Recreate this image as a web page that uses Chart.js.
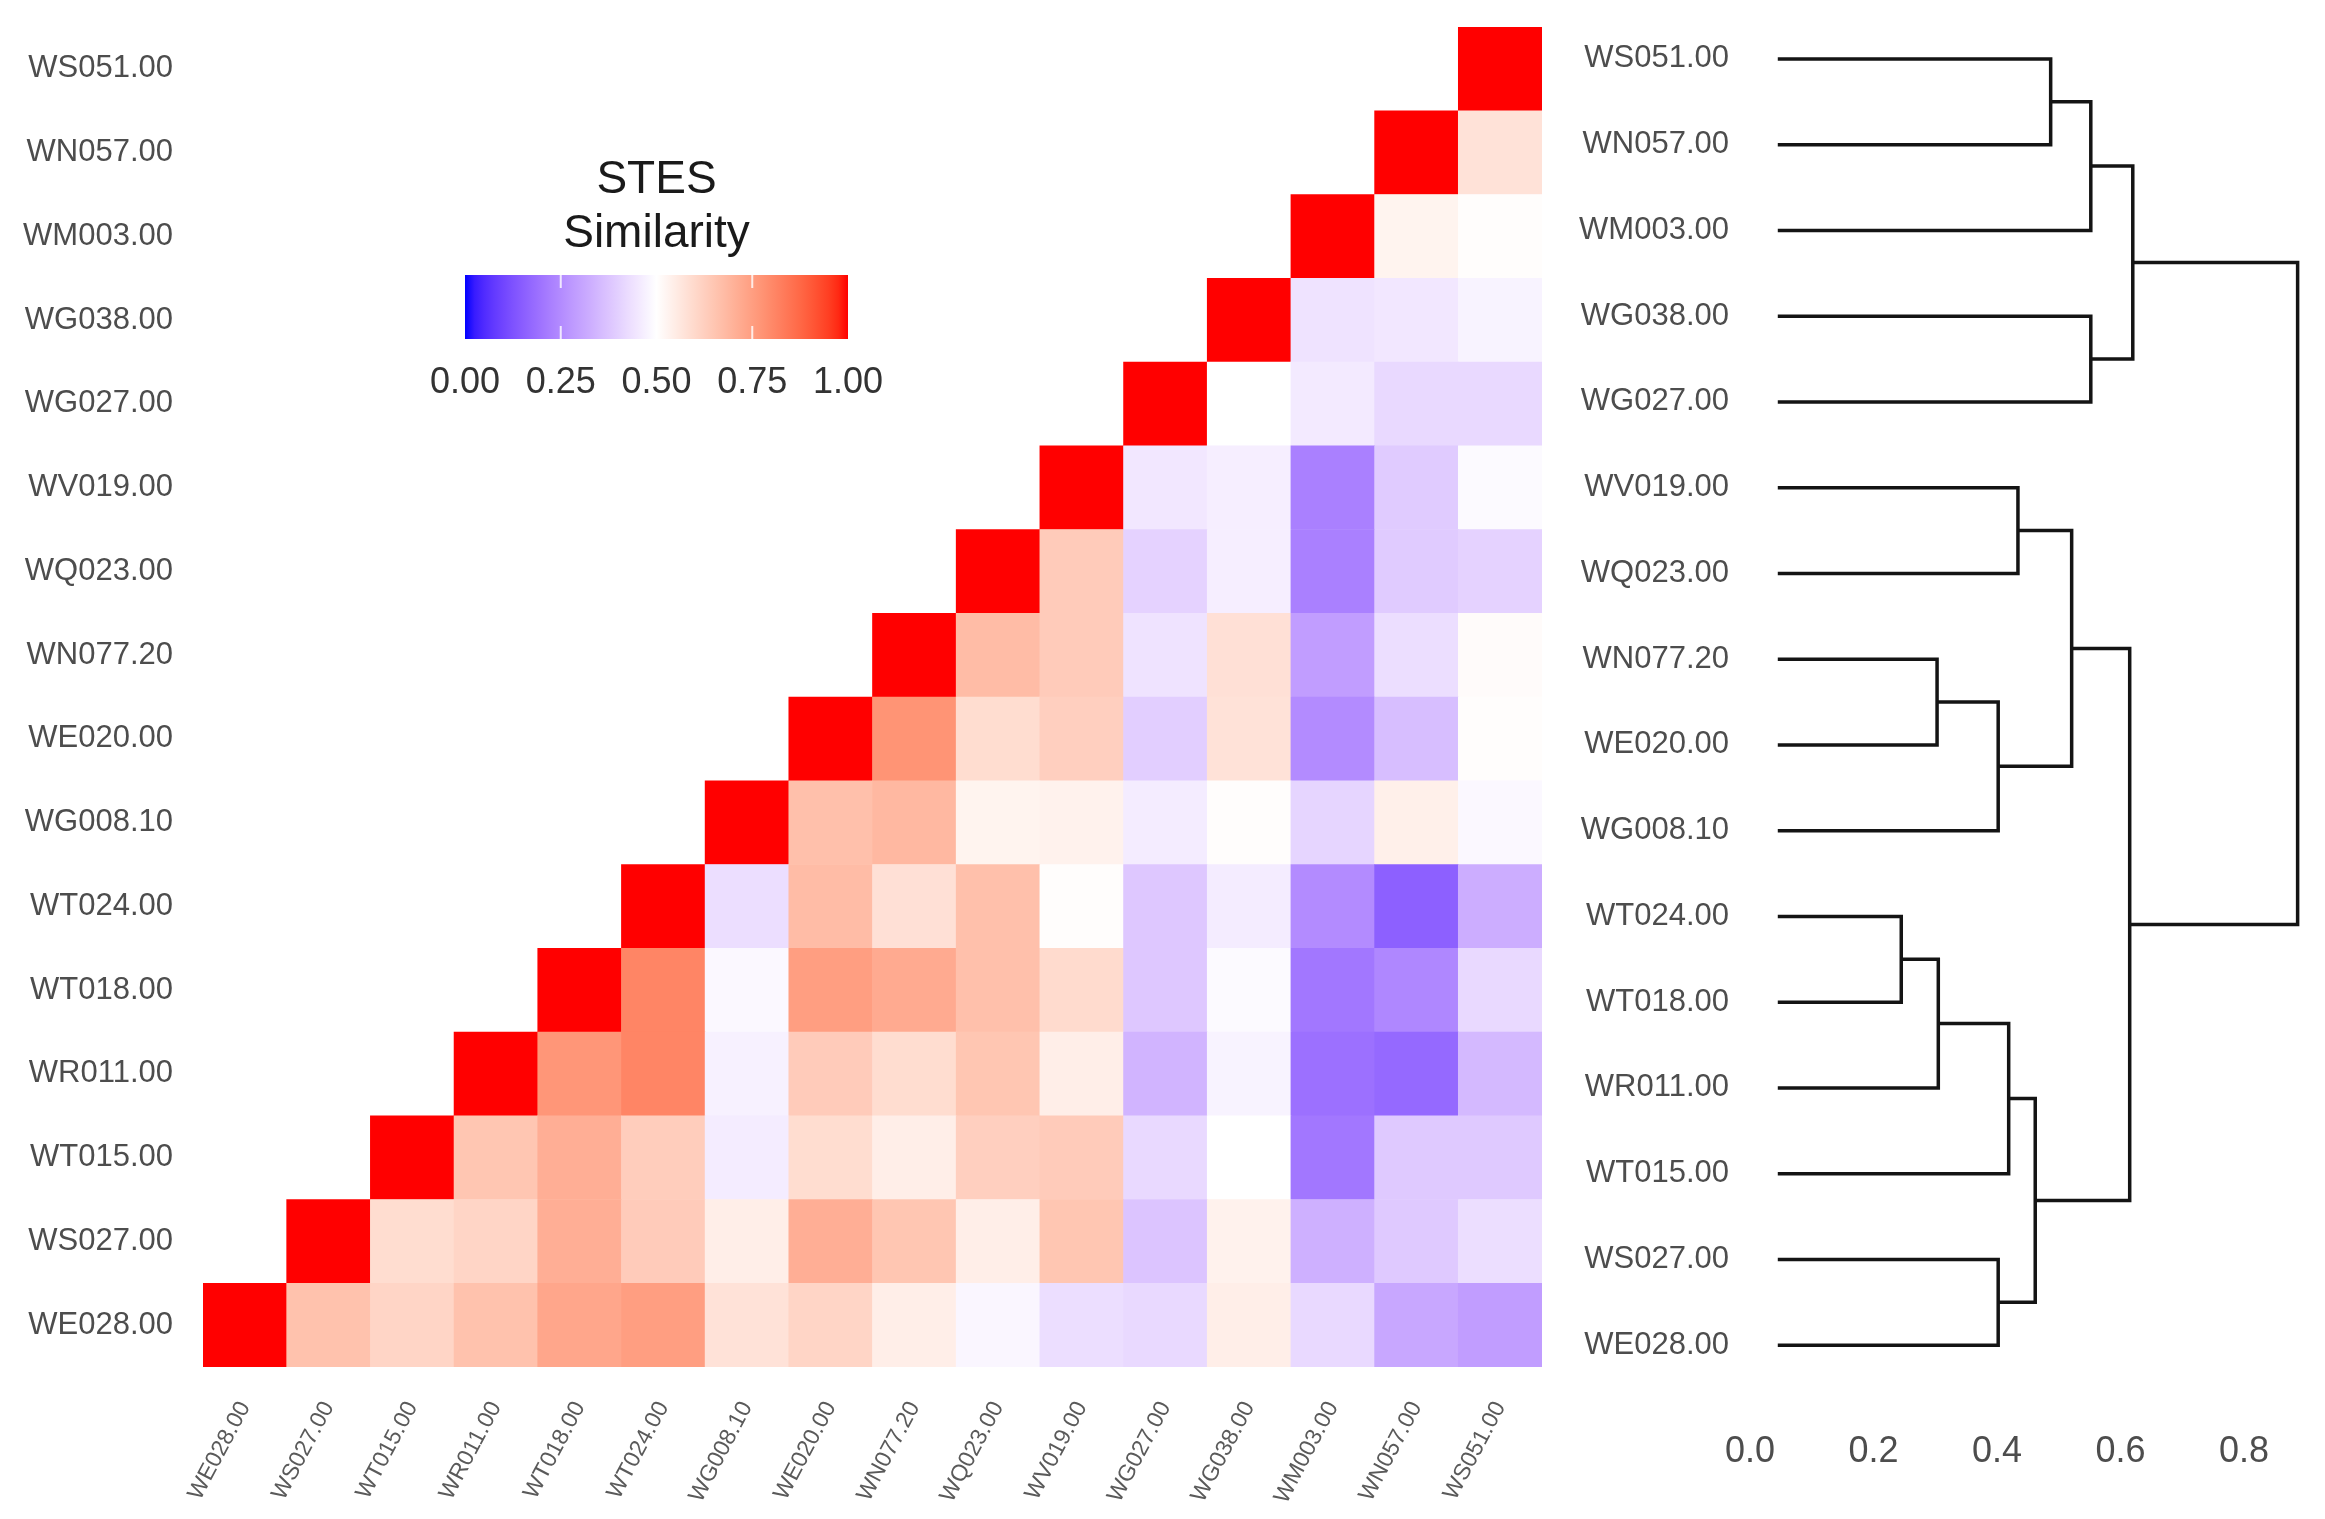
<!DOCTYPE html>
<html>
<head>
<meta charset="utf-8">
<script src="https://cdn.jsdelivr.net/npm/chart.js@4.4.1/dist/chart.umd.min.js"></script>
<style>
    html, body { margin: 0; padding: 0; background: #fff; }
    #wrap { position: relative; width: 2325px; height: 1519px; }
    #heatBox { position: absolute; left: 0; top: 0; width: 1560px; height: 1519px; }
    #dendBox { position: absolute; left: 1560px; top: 0; width: 765px; height: 1519px; }
</style>
</head>
<body>
<div id="wrap">
    <div id="heatBox"><canvas id="heat"></canvas></div>
    <div id="dendBox"><canvas id="dend"></canvas></div>
</div>
<script>
// samples, bottom to top (and left to right on the heatmap)
const sampleIds = ['WE028.00', 'WS027.00', 'WT015.00', 'WR011.00', 'WT018.00', 'WT024.00', 'WG008.10', 'WE020.00',
    'WN077.20', 'WQ023.00', 'WV019.00', 'WG027.00', 'WG038.00', 'WM003.00', 'WN057.00', 'WS051.00'];

// STES similarity, each row starts at its own diagonal cell
const simWE028 = [1, 0.66, 0.61, 0.66, 0.73, 0.75, 0.575, 0.61, 0.545, 0.48, 0.43, 0.42, 0.545, 0.42, 0.31, 0.29];
const simWS027 = [1, 0.59, 0.61, 0.71, 0.635, 0.545, 0.71, 0.65, 0.545, 0.65, 0.375, 0.535, 0.33, 0.385, 0.43];
const simWT015 = [1, 0.65, 0.71, 0.63, 0.46, 0.59, 0.545, 0.625, 0.635, 0.42, 0.5, 0.205, 0.385, 0.385];
const simWR011 = [1, 0.77, 0.81, 0.47, 0.635, 0.59, 0.65, 0.545, 0.34, 0.475, 0.19, 0.175, 0.35];
const simWT018 = [1, 0.81, 0.485, 0.75, 0.72, 0.665, 0.595, 0.38, 0.49, 0.205, 0.24, 0.42];
const simWT024 = [1, 0.43, 0.675, 0.58, 0.665, 0.505, 0.38, 0.46, 0.25, 0.155, 0.325];
const simWG008 = [1, 0.665, 0.685, 0.53, 0.535, 0.46, 0.505, 0.41, 0.54, 0.485];
const simWE020 = [1, 0.775, 0.59, 0.625, 0.395, 0.575, 0.25, 0.36, 0.505];
const simWN077 = [1, 0.675, 0.635, 0.44, 0.58, 0.29, 0.43, 0.51];
const simWQ023 = [1, 0.635, 0.405, 0.465, 0.225, 0.39, 0.405];
const simWV019 = [1, 0.45, 0.465, 0.225, 0.39, 0.49];
const simWG027 = [1, 0.5, 0.455, 0.42, 0.42];
const simWG038 = [1, 0.44, 0.45, 0.475];
const simWM003 = [1, 0.53, 0.505];
const simWN057 = [1, 0.575];
const simWS051 = [1];
const simRows = [simWE028, simWS027, simWT015, simWR011, simWT018, simWT024, simWG008, simWE020,
    simWN077, simWQ023, simWV019, simWG027, simWG038, simWM003, simWN057, simWS051];

// legend
const legendTitle = ['STES', 'Similarity'];
const legendBreaks = [0, 0.25, 0.5, 0.75, 1];

// dendrogram merges (mN = result of merge N)
const mergeA = ['WT024.00', 'm0', 'm1', 'WS027.00', 'm2', 'WN077.20', 'm5', 'WV019.00', 'm7', 'm8', 'WS051.00', 'm10', 'WG038.00', 'm11', 'm13'];
const mergeB = ['WT018.00', 'WR011.00', 'WT015.00', 'WE028.00', 'm3', 'WE020.00', 'WG008.10', 'WQ023.00', 'm6', 'm4', 'WN057.00', 'WM003.00', 'WG027.00', 'm12', 'm9'];
const mergeHeight = [0.245, 0.305, 0.419, 0.402, 0.462, 0.303, 0.402, 0.434, 0.521, 0.615, 0.487, 0.552, 0.552, 0.62, 0.887];
const leafHeight = 0.045;
const dendroTicks = [0, 0.2, 0.4, 0.6, 0.8];

const FONT = "'Liberation Sans', Arial, sans-serif";
Chart.defaults.font.family = FONT;

// --- colour scale: blue - white - red, interpolated in Lab like ggplot ---
function toLinear(c) { c /= 255; return c <= 0.04045 ? c / 12.92 : Math.pow((c + 0.055) / 1.055, 2.4); }
function fromLinear(c) {
    c = Math.max(0, Math.min(1, c));
    return Math.round(255 * (c <= 0.0031308 ? 12.92 * c : 1.055 * Math.pow(c, 1 / 2.4) - 0.055));
}
function rgbToLab(rgb) {
    const [r, g, b] = rgb.map(toLinear);
    const x = (0.4124 * r + 0.3576 * g + 0.1805 * b) / 0.95047;
    const y = (0.2126 * r + 0.7152 * g + 0.0722 * b);
    const z = (0.0193 * r + 0.1192 * g + 0.9505 * b) / 1.08883;
    const f = t => t > 0.008856 ? Math.cbrt(t) : 7.787 * t + 16 / 116;
    return [116 * f(y) - 16, 500 * (f(x) - f(y)), 200 * (f(y) - f(z))];
}
function labToRgb([L, a, bb]) {
    const fy = (L + 16) / 116, fx = fy + a / 500, fz = fy - bb / 200;
    const inv = t => t * t * t > 0.008856 ? t * t * t : (t - 16 / 116) / 7.787;
    const x = inv(fx) * 0.95047, y = inv(fy), z = inv(fz) * 1.08883;
    const r = 3.2406 * x - 1.5372 * y - 0.4986 * z;
    const g = -0.9689 * x + 1.8758 * y + 0.0415 * z;
    const b = 0.0557 * x - 0.2040 * y + 1.0570 * z;
    return [fromLinear(r), fromLinear(g), fromLinear(b)];
}
const labLow = rgbToLab([0, 0, 255]);
const labMid = rgbToLab([255, 255, 255]);
const labHigh = rgbToLab([255, 0, 0]);

function simColor(v) {
    const from = v <= 0.5 ? labLow : labMid;
    const to = v <= 0.5 ? labMid : labHigh;
    const t = v <= 0.5 ? v / 0.5 : (v - 0.5) / 0.5;
    const lab = from.map((c, i) => c + (to[i] - c) * t);
    const [r, g, b] = labToRgb(lab);
    return `rgb(${r}, ${g}, ${b})`;
}

// no automatic label padding, the boxes are placed by hand
function noPad(s) {
    s.paddingTop = 0; s.paddingBottom = 0; s.paddingLeft = 0; s.paddingRight = 0;
}

// --- heatmap ---
const heatDatasets = simRows.map((row, r) => ({
    data: sampleIds.map((_, c) => c >= r ? [r, r + 1] : null),
    backgroundColor: sampleIds.map((_, c) => c >= r ? simColor(row[c - r]) : 'rgba(0,0,0,0)'),
    borderWidth: 0,
    barPercentage: 1,
    categoryPercentage: 1,
    grouped: false
}));

const legendPlugin = {
    id: 'simLegend',
    afterDraw(chart) {
        const ctx = chart.ctx;
        const barX = 465, barY = 275, barW = 383, barH = 64;
        ctx.save();
        ctx.fillStyle = '#1a1a1a';
        ctx.textAlign = 'center';
        ctx.textBaseline = 'alphabetic';
        ctx.font = `46px ${FONT}`;
        ctx.fillText(legendTitle[0], barX + barW / 2, 193);
        ctx.fillText(legendTitle[1], barX + barW / 2, 247);

        const grad = ctx.createLinearGradient(barX, 0, barX + barW, 0);
        for (let i = 0; i <= 40; i++) grad.addColorStop(i / 40, simColor(i / 40));
        ctx.fillStyle = grad;
        ctx.fillRect(barX, barY, barW, barH);

        ctx.strokeStyle = 'rgba(255,255,255,0.8)';
        ctx.lineWidth = 2;
        ctx.font = `36px ${FONT}`;
        ctx.fillStyle = '#333333';
        legendBreaks.forEach(b => {
            const x = barX + b * barW;
            if (b > 0 && b < 1) {
                ctx.beginPath();
                ctx.moveTo(x, barY); ctx.lineTo(x, barY + 13);
                ctx.moveTo(x, barY + barH - 13); ctx.lineTo(x, barY + barH);
                ctx.stroke();
            }
            ctx.fillText(b.toFixed(2), x, 393);
        });
        ctx.restore();
    }
};

new Chart(document.getElementById('heat'), {
    type: 'bar',
    data: { labels: sampleIds, datasets: heatDatasets },
    options: {
        responsive: true,
        maintainAspectRatio: false,
        animation: false,
        layout: { padding: { top: 27, right: 18, left: 0, bottom: 0 } },
        plugins: { legend: { display: false }, tooltip: { enabled: false } },
        scales: {
            x: {
                grid: { display: false, drawTicks: false },
                border: { display: false },
                ticks: { autoSkip: false, minRotation: 62, maxRotation: 62, padding: 30, color: '#5a5a5a', font: { size: 23 } },
                afterFit: s => { s.height = 152; noPad(s); }
            },
            y: {
                type: 'linear', min: 0, max: 16,
                grid: { display: false, drawTicks: false },
                border: { display: false },
                afterBuildTicks: s => { s.ticks = sampleIds.map((_, i) => ({ value: i + 0.5 })); },
                ticks: { padding: 30, color: '#4d4d4d', font: { size: 31 }, callback: (v, i) => sampleIds[i] },
                afterFit: s => { s.width = 203; noPad(s); }
            }
        }
    },
    plugins: [legendPlugin]
});

// --- dendrogram ---
function buildDendrogram() {
    const nodes = {};
    sampleIds.forEach((id, i) => { nodes[id] = { x: leafHeight, y: i }; });
    const segments = [];
    mergeA.forEach((a, m) => {
        const na = nodes[a], nb = nodes[mergeB[m]], h = mergeHeight[m];
        segments.push([{ x: na.x, y: na.y }, { x: h, y: na.y }, { x: h, y: nb.y }, { x: nb.x, y: nb.y }]);
        nodes['m' + m] = { x: h, y: (na.y + nb.y) / 2 };
    });
    return segments;
}

const dendDatasets = buildDendrogram().map(seg => ({
    data: seg,
    showLine: true,
    borderColor: '#141414',
    borderWidth: 3.5,
    borderCapStyle: 'butt',
    borderJoinStyle: 'miter',
    pointRadius: 0,
    fill: false,
    tension: 0
}));

new Chart(document.getElementById('dend'), {
    type: 'scatter',
    data: { datasets: dendDatasets },
    options: {
        responsive: true,
        maintainAspectRatio: false,
        animation: false,
        layout: { padding: { top: 16, right: 7, left: 0, bottom: 0 } },
        plugins: { legend: { display: false }, tooltip: { enabled: false } },
        scales: {
            x: {
                type: 'linear', min: 0, max: 0.92,
                grid: { display: false, drawTicks: false },
                border: { display: false },
                afterBuildTicks: s => { s.ticks = dendroTicks.map(v => ({ value: v })); },
                ticks: { padding: 42, color: '#4d4d4d', font: { size: 36 }, callback: v => v.toFixed(1) },
                afterFit: s => { s.height = 131; noPad(s); }
            },
            y: {
                type: 'linear', min: -0.5, max: 15.5,
                grid: { display: false, drawTicks: false },
                border: { display: false },
                afterBuildTicks: s => { s.ticks = sampleIds.map((_, i) => ({ value: i })); },
                ticks: { padding: 21, color: '#4d4d4d', font: { size: 31 }, callback: (v, i) => sampleIds[i] },
                afterFit: s => { s.width = 190; noPad(s); }
            }
        }
    }
});
</script>
</body>
</html>
